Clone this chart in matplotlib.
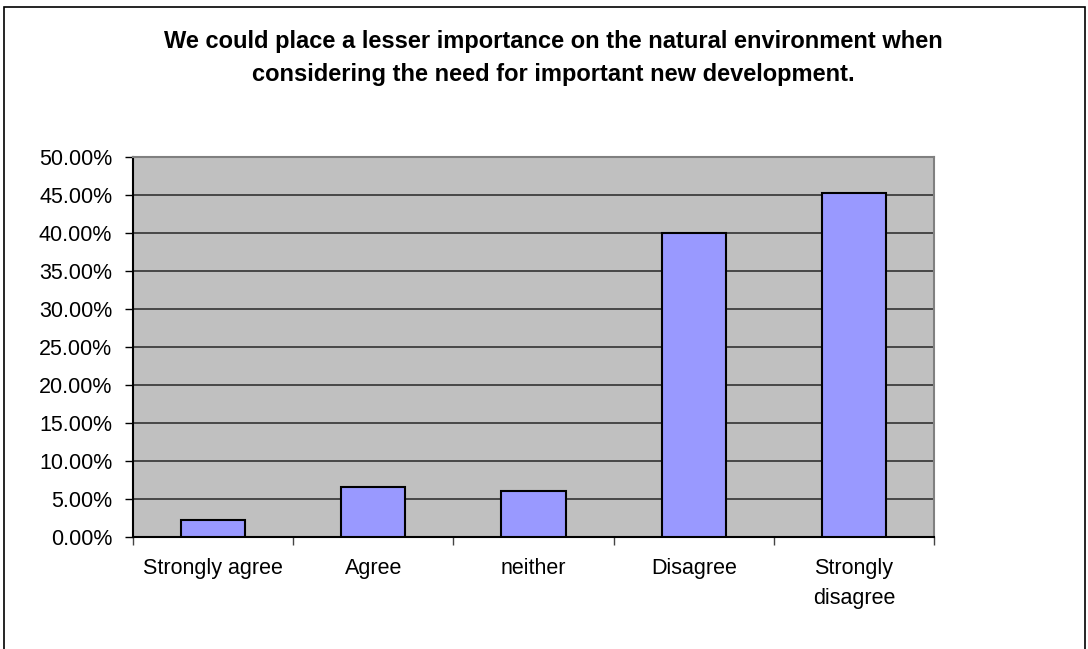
import matplotlib
matplotlib.use("Agg")
import matplotlib.pyplot as plt
import matplotlib.patches as patch
from matplotlib.ticker import FuncFormatter, FixedLocator

categories = ["Strongly agree", "Agree", "neither", "Disagree", "Strongly\ndisagree"]
shares = [2.2, 6.6, 6.1, 40.0, 45.3]
yticks = [0, 5, 10, 15, 20, 25, 30, 35, 40, 45, 50]
title = ("We could place a lesser importance on the natural environment when\n"
         "considering the need for important new development.")

plt.rcParams["font.family"] = ["Liberation Sans", "DejaVu Sans"]

fig = plt.figure(figsize=(10.88, 6.49), dpi=100)
# outer chart frame, runs off the bottom of the image
fig.patches.append(patch.Rectangle((4 / 1088, -0.1), 1081 / 1088, 1.1 - 7 / 649,
                                   transform=fig.transFigure, fill=False,
                                   edgecolor="black", linewidth=1.2))

axis = fig.add_axes([133 / 1088, 1 - 537 / 649, 801 / 1088, 380 / 649])
axis.set_facecolor("#C0C0C0")
x = list(range(len(categories)))
axis.bar(x, shares, width=0.4, color="#9999FF", edgecolor="black", linewidth=1.5,
         zorder=3)
axis.set_xlim(-0.5, len(categories) - 0.5)
axis.set_ylim(0, 50)
axis.set_yticks(yticks)
axis.yaxis.set_major_formatter(FuncFormatter(lambda v, p: f"{v:.2f}%"))
axis.yaxis.grid(True, color="#333333", linewidth=1.2, zorder=1)
axis.set_axisbelow(True)

# ticks between categories, labels in the middle
axis.xaxis.set_major_locator(FixedLocator([i - 0.5 for i in range(len(categories) + 1)]))
axis.xaxis.set_minor_locator(FixedLocator(x))
axis.set_xticklabels([])
axis.set_xticklabels(categories, minor=True)
for lbl in axis.get_xticklabels(minor=True):
    lbl.set_linespacing(1.6)
axis.tick_params(axis="x", which="major", length=6, width=1, color="#444444")
axis.tick_params(axis="x", which="minor", length=0, pad=15, labelsize=15.5)
axis.tick_params(axis="y", length=6, width=1, labelsize=15.5, pad=9)

axis.spines["left"].set_color("black")
axis.spines["bottom"].set_color("black")
axis.spines["left"].set_linewidth(1.5)
axis.spines["bottom"].set_linewidth(1.5)
axis.spines["top"].set_color("#808080")
axis.spines["right"].set_color("#808080")
axis.spines["top"].set_linewidth(1.5)
axis.spines["right"].set_linewidth(1.5)

fig.text(553 / 1088, 1 - 58 / 649, title, ha="center", va="center",
         fontsize=17, fontweight="bold", linespacing=1.6)

plt.savefig("out.png", dpi=100)
